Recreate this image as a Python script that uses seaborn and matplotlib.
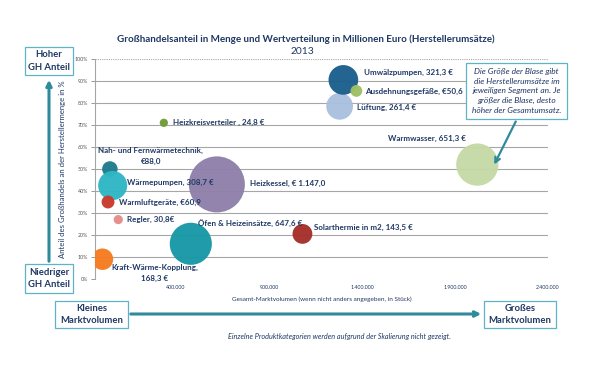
import seaborn as sns
import matplotlib.pyplot as plt
import pandas as pd
from matplotlib.patches import Rectangle, FancyArrowPatch

# Produktsegmente (Reihenfolge = Zeichenreihenfolge)
segments = ["Lüftung", "Umwälzpumpen", "Ausdehnungsgefäße", "Heizkreisverteiler",
            "Warmwasser", "Nah- und Fernwärmetechnik", "Heizkessel", "Wärmepumpen",
            "Warmluftgeräte", "Regler", "Öfen & Heizeinsätze", "Solarthermie",
            "Kraft-Wärme-Kopplung"]
volume = [1280000, 1300000, 1370000, 335000, 2020000, 45000, 620000, 60000,
          35000, 90000, 480000, 1080000, 5000]
share = [78.5, 90.5, 85.5, 71.0, 52.0, 50.0, 43.0, 42.5, 35.0, 27.0, 16.0, 20.5, 9.0]
revenue = [261.4, 321.3, 50.6, 24.8, 651.3, 88.0, 1147.0, 308.7, 60.9, 30.8,
           647.6, 143.5, 168.3]
labels = ["Lüftung, 261,4 €", "Umwälzpumpen, 321,3 €", "Ausdehnungsgefäße, €50,6",
          "Heizkreisverteiler , 24,8 €", "Warmwasser, 651,3 €",
          "Nah- und Fernwärmetechnik,\n€88,0", "Heizkessel, € 1.147,0",
          "Wärmepumpen, 308,7 €", "Warmluftgeräte, €60,9", "Regler, 30,8€",
          "Öfen & Heizeinsätze, 647,6 €", "Solarthermie in m2, 143,5 €",
          "Kraft-Wärme-Kopplung,\n168,3 €"]
colors = ["#a9c0de", "#1c5f8c", "#9dbf62", "#6f9c34", "#c5d9a6", "#1f7c8c",
          "#8f80a9", "#30b6c4", "#c83b2d", "#e58c88", "#1898a6", "#a6302a",
          "#f57c20"]
x_ticks = [400000, 900000, 1400000, 1900000, 2400000]
x_tick_labels = ["400.000", "900.000", "1.400.000", "1.900.000", "2.400.000"]
y_ticks = list(range(0, 101, 10))

# Label-Versatz in Pixeln (dx, dy nach oben), Ausrichtung
label_pos = {
    "Lüftung": (17, -1, "left"), "Umwälzpumpen": (21, 7, "left"),
    "Ausdehnungsgefäße": (9, -1, "left"), "Heizkreisverteiler": (9, 0, "left"),
    "Warmwasser": (-89, 26, "left"), "Nah- und Fernwärmetechnik": (41, 13, "center"),
    "Heizkessel": (33, 1, "left"), "Wärmepumpen": (14, 3, "left"),
    "Warmluftgeräte": (11, 0, "left"), "Regler": (9, 0, "left"),
    "Öfen & Heizeinsätze": (7, 21, "left"), "Solarthermie": (12, 6, "left"),
    "Kraft-Wärme-Kopplung": (52, -14, "center"),
}

df = pd.DataFrame({"segment": segments, "volume": volume, "share": share,
                   "revenue": revenue})

sns.set_theme(style="white")
plt.rcParams["font.family"] = ["Lato", "DejaVu Sans"]

navy = "#1f3864"
teal = "#2f8a9b"
W, H = 595, 369

fig = plt.figure(figsize=(W / 100, H / 100), dpi=100)
ax = fig.add_axes([95 / W, 1 - 279 / H, (548 - 95) / W, (279 - 59) / H])


def fx(px):
    return px / W


def fy(py):
    return 1 - py / H


sns.scatterplot(data=df, x="volume", y="share", hue="segment", size="revenue",
                palette=colors, sizes=(0, 1147 * 1.42), size_norm=(0, 1147),
                linewidth=0, alpha=0.97, legend=False, ax=ax, zorder=3)

for seg, xv, yv, lab in zip(segments, volume, share, labels):
    dx, dy, ha = label_pos[seg]
    ax.annotate(lab, (xv, yv), xytext=(dx, dy), textcoords="offset pixels",
                ha=ha, va="center", fontsize=5.8, fontweight="bold", color=navy,
                zorder=4, linespacing=1.6)

ax.set_xlim(-35000, 2400000)
ax.set_ylim(0, 100)
ax.set_xticks(x_ticks)
ax.set_xticklabels(x_tick_labels)
ax.set_yticks(y_ticks)
ax.set_yticklabels([f"{v}%" for v in y_ticks])
ax.tick_params(axis="x", labelsize=3.8, length=0, pad=4, colors="#1f3864")
ax.tick_params(axis="y", labelsize=3.8, length=3, width=0.6, color="#888888",
               left=True, pad=2, labelcolor="#555555")
for v in y_ticks[1:-1]:
    ax.axhline(v, color="#a6a6a6", lw=0.8, zorder=1)
ax.axhline(100, color="#a6a6a6", lw=0.8, ls=(0, (1, 1)), zorder=1)
for s in ["top", "right", "bottom"]:
    ax.spines[s].set_visible(False)
ax.spines["left"].set_color("#a6a6a6")
ax.spines["left"].set_linewidth(0.8)

ax.set_xlabel("Gesamt-Marktvolumen (wenn nicht anders angegeben, in Stück)",
              fontsize=4.6, color=navy, labelpad=5)
ax.set_ylabel("Anteil des Großhandels an der Herstellermenge in %", fontsize=5.6,
              color=navy, labelpad=6)

fig.text(fx(306), fy(39), "Großhandelsanteil in Menge und Wertverteilung in "
         "Millionen Euro (Herstellerumsätze)", ha="center", va="center",
         fontsize=7.1, fontweight="bold", color=navy)
fig.text(fx(302), fy(52), "2013", ha="center", va="center", fontsize=7.4,
         color=navy)


def box(x0, y0, x1, y1, text, italic=False, size=6.8, lw=0.9):
    fig.add_artist(Rectangle((fx(x0), fy(y1)), fx(x1 - x0), (y1 - y0) / H,
                             transform=fig.transFigure, facecolor="white",
                             edgecolor="#5fb3c6", lw=lw, zorder=5))
    fig.text(fx((x0 + x1) / 2), fy((y0 + y1) / 2), text, ha="center",
             va="center", fontsize=size, color=navy, zorder=6,
             fontweight="normal" if italic else "bold",
             style="italic" if italic else "normal", linespacing=1.45)


def arrow(p0, p1, lw=2.2, head=8):
    fig.add_artist(FancyArrowPatch((fx(p0[0]), fy(p0[1])), (fx(p1[0]), fy(p1[1])),
                                   transform=fig.transFigure, arrowstyle="->",
                                   mutation_scale=head, color=teal, lw=lw,
                                   zorder=4))


arrow((49, 264), (49, 77))
box(25, 47, 73, 75, "Hoher\nGH Anteil")
box(25, 264, 73, 293, "Niedriger\nGH Anteil")

arrow((128, 314), (484, 314))
box(55, 301, 128, 328, "Kleines\nMarktvolumen")
box(484, 301, 556, 328, "Großes\nMarktvolumen")

box(466, 63, 567, 119, "Die Größe der Blase gibt\ndie Herstellerumsätze im\n"
    "jeweiligen Segment an. Je\ngrößer die Blase, desto\nhöher der Gesamtumsatz.",
    italic=True, size=6.0)
arrow((517, 119), (493, 167), lw=1.6, head=9)

fig.text(fx(340), fy(337), "Einzelne Produktkategorien werden aufgrund der "
         "Skalierung nicht gezeigt.", ha="center", va="center", fontsize=5.2,
         style="italic", color=navy)

fig.savefig("out.png", dpi=100)
